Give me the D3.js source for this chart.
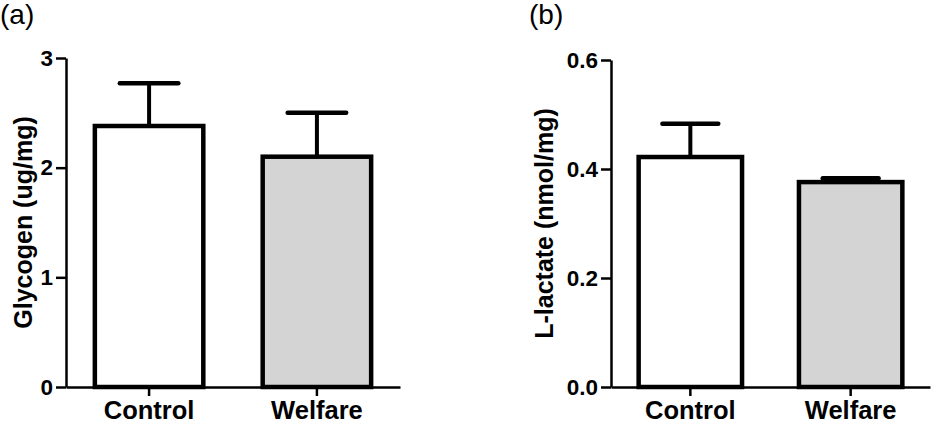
<!DOCTYPE html>
<html>
<head>
<meta charset="utf-8">
<script src="https://cdn.jsdelivr.net/npm/d3@7"></script>
<style>
  body { margin: 0; background: #fff; }
  svg { display: block; font-family: Arial, "Liberation Sans", sans-serif; }
  .tick text { font-weight: bold; font-size: 22.5px; fill: #000; }
  .cat .tick text { font-size: 25.5px; }
  .axis-title { font-weight: bold; font-size: 25px; }
  .panel-label { font-size: 28px; }
</style>
</head>
<body>
<script>
const groups = ['Control', 'Welfare'];
const fills = ['#ffffff', '#d4d4d4'];

// (a) glycogen
const glycogenMean = [2.38, 2.10];
const glycogenSem = [0.39, 0.40];
const glycogenTicks = [0, 1, 2, 3];

// (b) L-lactate
const lactateMean = [0.422, 0.376];
const lactateSem = [0.061, 0.007];
const lactateTicks = [0, 0.2, 0.4, 0.6];

const svg = d3.select('body')
  .append('svg')
  .attr('width', 936)
  .attr('height', 435);

function drawPanel(opts) {
  const x = d3.scaleBand()
    .domain(groups)
    .range([opts.left, opts.right])
    .paddingInner(0.33)
    .paddingOuter(0.16);

  const y = d3.scaleLinear()
    .domain([0, opts.ticks[opts.ticks.length - 1]])
    .range([opts.bottom, opts.top]);

  const g = svg.append('g');

  // y axis
  g.append('g')
    .attr('transform', `translate(${opts.left}, 0)`)
    .call(d3.axisLeft(y)
      .tickValues(opts.ticks)
      .tickFormat(opts.format)
      .tickSize(10)
      .tickSizeOuter(0)
      .tickPadding(3));

  // x axis
  g.append('g')
    .attr('class', 'cat')
    .attr('transform', `translate(0, ${opts.bottom})`)
    .call(d3.axisBottom(x)
      .tickSize(9)
      .tickSizeOuter(0)
      .tickPadding(5));

  g.selectAll('.domain').attr('stroke', '#000').attr('stroke-width', 2.5);
  g.selectAll('.tick line').attr('stroke', '#000').attr('stroke-width', 2.5);

  const rows = groups.map((k, i) => ({ key: k, mean: opts.mean[i], sem: opts.sem[i], fill: fills[i] }));

  // error bars (upper only)
  const err = g.selectAll('.err')
    .data(rows)
    .enter()
    .append('g')
    .attr('class', 'err');

  err.append('line')
    .attr('x1', d => x(d.key) + x.bandwidth() / 2)
    .attr('x2', d => x(d.key) + x.bandwidth() / 2)
    .attr('y1', d => y(d.mean))
    .attr('y2', d => y(d.mean + d.sem))
    .attr('stroke', '#000')
    .attr('stroke-width', 4);

  err.append('line')
    .attr('x1', d => x(d.key) + x.bandwidth() * 0.24)
    .attr('x2', d => x(d.key) + x.bandwidth() * 0.76)
    .attr('y1', d => y(d.mean + d.sem))
    .attr('y2', d => y(d.mean + d.sem))
    .attr('stroke', '#000')
    .attr('stroke-width', 4.5)
    .attr('stroke-linecap', 'round');

  // bars
  g.selectAll('.bar')
    .data(rows)
    .enter()
    .append('rect')
    .attr('class', 'bar')
    .attr('x', d => x(d.key) + 2)
    .attr('width', x.bandwidth() - 4)
    .attr('y', d => y(d.mean))
    .attr('height', d => y(0) - y(d.mean))
    .attr('fill', d => d.fill)
    .attr('stroke', '#000')
    .attr('stroke-width', 4.5);

  // axis title
  svg.append('text')
    .attr('class', 'axis-title')
    .attr('transform', `translate(${opts.titleX}, ${(opts.top + opts.bottom) / 2}) rotate(-90)`)
    .attr('text-anchor', 'middle')
    .text(opts.title);

  // panel letter
  svg.append('text')
    .attr('class', 'panel-label')
    .attr('x', opts.labelX)
    .attr('y', 24)
    .text(opts.label);
}

drawPanel({
  left: 66, right: 400, top: 58, bottom: 387,
  mean: glycogenMean, sem: glycogenSem, ticks: glycogenTicks,
  format: d3.format('d'),
  title: 'Glycogen (ug/mg)', titleX: 32,
  label: '(a)', labelX: 0
});

drawPanel({
  left: 611, right: 930, top: 60, bottom: 387,
  mean: lactateMean, sem: lactateSem, ticks: lactateTicks,
  format: d3.format('.1f'),
  title: 'L-lactate (nmol/mg)', titleX: 553,
  label: '(b)', labelX: 529
});
</script>
</body>
</html>
